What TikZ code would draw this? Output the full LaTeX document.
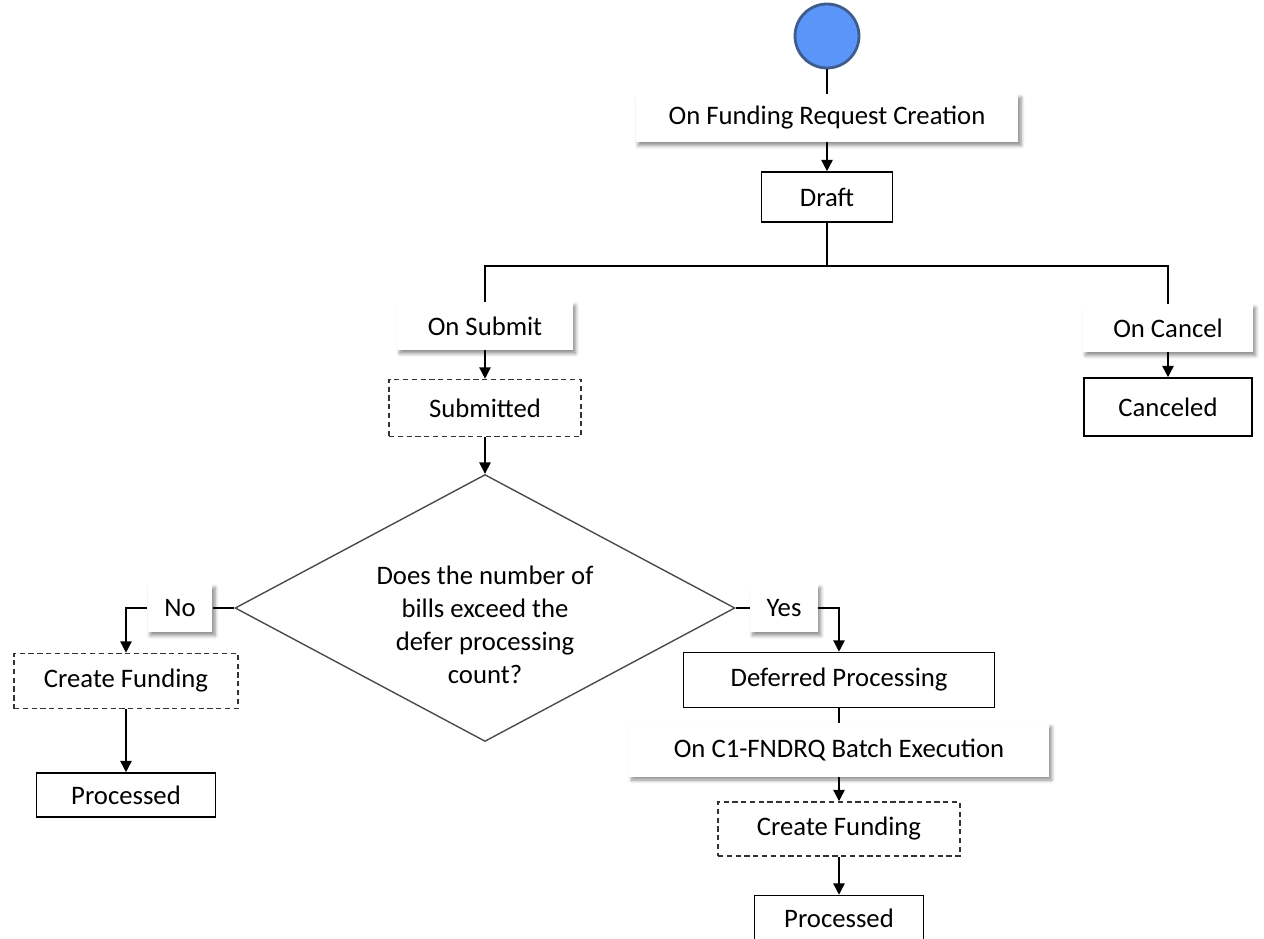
\documentclass[tikz,border=0pt]{standalone}
\usepackage{fontspec}
\setmainfont{Carlito}
\usetikzlibrary{arrows.meta, positioning, shapes.geometric, shadows.blur}
\definecolor{startblue}{RGB}{90,150,250}
\definecolor{startedge}{RGB}{62,92,140}

\begin{document}
\begin{tikzpicture}[
		x=0.02cm, y=-0.02cm,
		font=\fontsize{15.2}{18.7}\selectfont,
		% Start marker
		startdot/.style={circle, fill=startblue, draw=startedge, line width=1.6pt, minimum size=1.28cm, inner sep=0pt},
		% State styles
		statebox/.style={draw=black, line width=0.9pt, fill=white, minimum height=1cm, inner sep=2pt},
		pendbox/.style={statebox, draw=black!80, dash pattern=on 3pt off 2pt},
		% Event label styles
		eventlbl/.style={fill=white, minimum height=0.96cm, inner sep=2pt, blur shadow={shadow xshift=1.5pt, shadow yshift=-2pt, shadow blur steps=6, shadow blur radius=2pt, shadow opacity=45}},
		% Decision styles
		decision/.style={diamond, draw=black!70, line width=0.8pt, minimum width=10cm, minimum height=5.34cm, inner sep=0pt},
		% Connector styles
		flow/.style={line width=0.85pt},
		flowarrow/.style={flow, -{Triangle[width=6.5pt, length=6.5pt]}}
		]
		
		\useasboundingbox (0,0) rectangle (1264,939);
		
		% --- TOP: START AND DRAFT ---
		\node[startdot] (start) at (827,36) {};
		\node[eventlbl, minimum width=7.66cm] (evCreate) at (827,118) {On Funding Request Creation};
		\node[statebox, minimum width=2.62cm] (draft) at (827,197) {Draft};
		\coordinate (split) at (827,266);
		
		% --- SUBMIT / CANCEL BRANCHES ---
		\node[eventlbl, minimum width=3.52cm] (evSubmit) at (485,326) {On Submit};
		\node[pendbox, minimum width=3.84cm, minimum height=1.14cm] (submitted) at (485,408) {Submitted};
		\node[eventlbl, minimum width=3.4cm] (evCancel) at (1168,328) {On Cancel};
		\node[statebox, minimum width=3.36cm, minimum height=1.16cm] (canceled) at (1168,407) {Canceled};
		
		% --- DECISION ---
		\node[decision] (check) at (485,608) {};
		\node[align=center] (checktext) at (485,625) {Does the number of\\bills exceed the\\defer processing\\count?};
		\node[eventlbl, minimum width=1.3cm] (evNo) at (180,608) {No};
		\node[eventlbl, minimum width=1.36cm] (evYes) at (784,608) {Yes};
		
		% --- NO: DIRECT FUNDING ---
		\node[pendbox, minimum width=4.48cm, minimum height=1.1cm] (fundL) at (126,681) {Create Funding};
		\node[statebox, minimum width=3.58cm, minimum height=0.88cm] (doneL) at (126,795) {Processed};
		
		% --- YES: DEFERRED FUNDING ---
		\node[statebox, minimum width=6.22cm, minimum height=1.1cm] (deferred) at (839,680) {Deferred Processing};
		\node[eventlbl, minimum width=8.4cm, minimum height=1.06cm] (evBatch) at (839,750) {On C1-FNDRQ Batch Execution};
		\node[pendbox, minimum width=4.84cm, minimum height=1.08cm] (fundR) at (839,829) {Create Funding};
		\node[statebox, minimum width=3.38cm, minimum height=0.9cm] (doneR) at (839,918) {Processed};
		
		% Connections
		\draw[flow] (start) -- (evCreate);
		\draw[flowarrow] (evCreate) -- (draft);
		\draw[flow] (draft) -- (split);
		\draw[flow] (evSubmit) |- (split) -| (evCancel);
		\draw[flowarrow] (evSubmit) -- (submitted);
		\draw[flowarrow] (evCancel) -- (canceled);
		\draw[flowarrow] (submitted) -- (check);
		\draw[flow] (check.west) -- (evNo);
		\draw[flowarrow] (evNo) -| (fundL);
		\draw[flow] (check.east) -- (evYes);
		\draw[flowarrow] (evYes) -| (deferred);
		\draw[flowarrow] (fundL) -- (doneL);
		\draw[flow] (deferred) -- (evBatch);
		\draw[flowarrow] (evBatch) -- (fundR);
		\draw[flowarrow] (fundR) -- (doneR);
		
	\end{tikzpicture}
\end{document}
